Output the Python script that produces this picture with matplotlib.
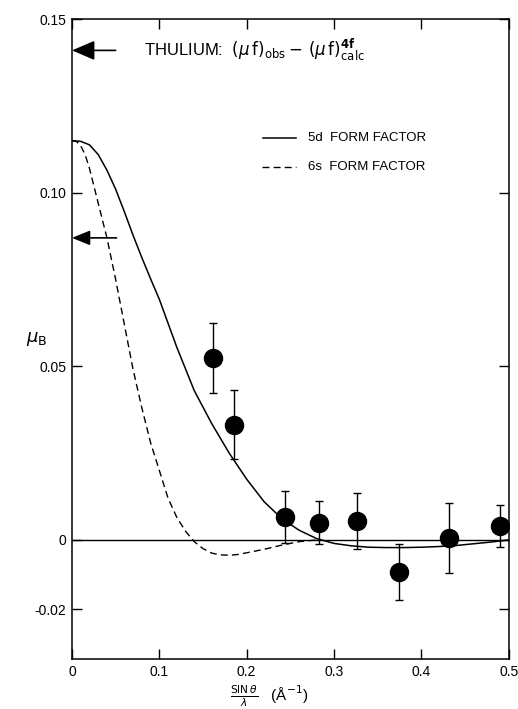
import matplotlib.pyplot as plt

plt.rcParams['font.family'] = ['Liberation Sans', 'DejaVu Sans']
plt.rcParams['mathtext.fontset'] = 'dejavusans'

# measured points (sin(theta)/lambda, mu_B)
q_obs = [0.161, 0.186, 0.244, 0.283, 0.326, 0.374, 0.432, 0.490]
mu_obs = [0.0524, 0.0332, 0.0066, 0.0049, 0.0054, -0.0092, 0.0006, 0.0040]
mu_err = [0.0100, 0.0100, 0.0075, 0.0062, 0.0080, 0.0080, 0.0100, 0.0060]

# 5d form factor curve
q_5d = [0.0, 0.01, 0.02, 0.03, 0.04, 0.05, 0.06, 0.07, 0.08, 0.09, 0.10,
        0.12, 0.14, 0.16, 0.18, 0.20, 0.22, 0.24, 0.26, 0.28, 0.30, 0.32,
        0.34, 0.36, 0.38, 0.40, 0.42, 0.44, 0.46, 0.48, 0.50]
f_5d = [0.115, 0.1148, 0.1138, 0.111, 0.1065, 0.101, 0.0945, 0.0877, 0.0813,
        0.0752, 0.0693, 0.0555, 0.043, 0.0335, 0.025, 0.0175, 0.011, 0.0062,
        0.0028, 0.0004, -0.0010, -0.0017, -0.0021, -0.0022, -0.0022, -0.0021,
        -0.0019, -0.0016, -0.0011, -0.0006, 0.0]

# 6s form factor curve
q_6s = [0.0, 0.005, 0.01, 0.015, 0.02, 0.03, 0.04, 0.05, 0.06, 0.07, 0.08,
        0.09, 0.10, 0.11, 0.12, 0.13, 0.14, 0.15, 0.16, 0.17, 0.18, 0.19,
        0.20, 0.22, 0.24, 0.26, 0.28]
f_6s = [0.115, 0.1148, 0.1135, 0.111, 0.107, 0.097, 0.087, 0.075, 0.062,
        0.049, 0.038, 0.028, 0.020, 0.012, 0.0065, 0.0025, -0.0005, -0.0025,
        -0.0038, -0.0043, -0.0044, -0.0042, -0.0037, -0.0027, -0.0015,
        -0.0005, 0.0]

arrow_y = [0.141, 0.087]
yticks = [-0.02, 0, 0.05, 0.10, 0.15]
ylabels = ['-0.02', '0', '0.05', '0.10', '0.15']
xticks = [0, 0.1, 0.2, 0.3, 0.4, 0.5]
xlabels = ['0', '0.1', '0.2', '0.3', '0.4', '0.5']

fig = plt.figure(figsize=(5.18, 7.09), dpi=100)
ax = fig.add_axes([0.139, 0.07, 0.843, 0.903])

ax.plot(q_5d, f_5d, color='black', lw=1.1)
ax.plot(q_6s, f_6s, color='black', lw=1.0, ls=(0, (5, 3)))
ax.axhline(0, color='black', lw=1.0)
ax.errorbar(q_obs, mu_obs, yerr=mu_err, fmt='o', color='black', ms=13,
            elinewidth=1.0, capsize=3, capthick=1.0, zorder=5)

# arrows on the y axis
ax.annotate('', xy=(0.0, arrow_y[0]), xytext=(0.05, arrow_y[0]),
            arrowprops=dict(arrowstyle='-|>,head_length=1.4,head_width=0.6',
                            color='black', lw=1.2, shrinkA=0, shrinkB=0))
ax.annotate('', xy=(0.0, arrow_y[1]), xytext=(0.051, arrow_y[1]),
            arrowprops=dict(arrowstyle='-|>,head_length=1.1,head_width=0.45',
                            color='black', lw=1.2, shrinkA=0, shrinkB=0))

ax.text(0.083, 0.141, r'THULIUM:  $(\mu\,\mathrm{f})_{\mathrm{obs}} - \,(\mu\,\mathrm{f})_{\mathrm{calc}}^{\mathbf{4f}}$',
        fontsize=12, va='center', ha='left')

# legend drawn by hand like the original
ax.plot([0.219, 0.257], [0.1158, 0.1158], color='black', lw=1.1)
ax.plot([0.217, 0.257], [0.1075, 0.1075], color='black', lw=1.0, ls=(0, (5, 3)))
ax.text(0.270, 0.1158, '5d  FORM FACTOR', fontsize=9.5, va='center')
ax.text(0.270, 0.1075, '6s  FORM FACTOR', fontsize=9.5, va='center')

ax.set_xlim(0, 0.5)
ax.set_ylim(-0.0344, 0.15)
ax.set_xticks(xticks)
ax.set_xticklabels(xlabels)
ax.set_yticks(yticks)
ax.set_yticklabels(ylabels)
ax.tick_params(direction='in', top=True, right=True, length=7, width=1,
               labelsize=10, pad=4)

ax.text(-0.053, 0.058, r'$\mu_{\mathrm{B}}$', fontsize=13, ha='left', va='center')
fig.text(0.52, 0.0, r'$\frac{\mathrm{SIN}\,\theta}{\lambda}$   (Å$^{-1}$)',
         fontsize=11, ha='center', va='bottom')

for s in ax.spines.values():
    s.set_linewidth(1.1)

fig.savefig('out.png', dpi=100)
